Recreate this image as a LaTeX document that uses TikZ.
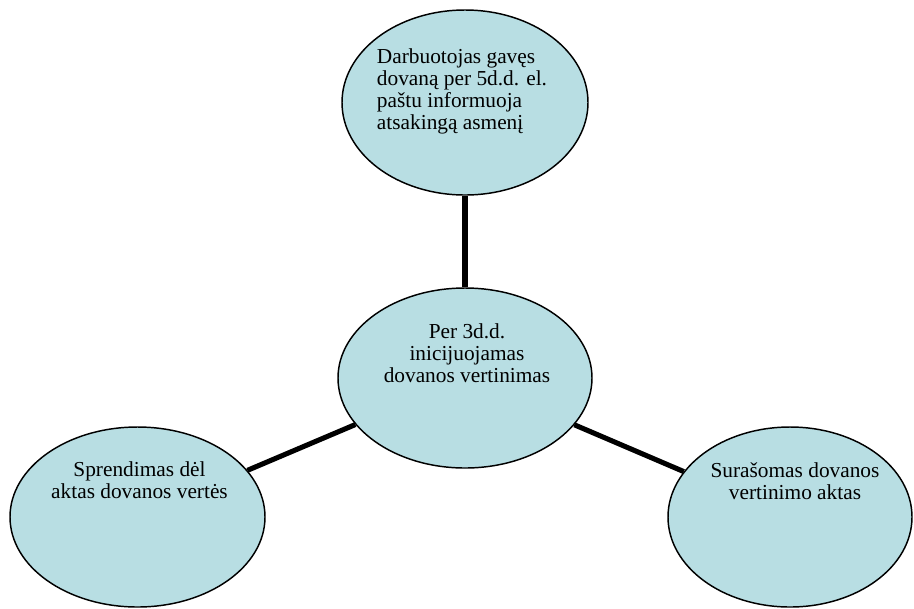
\documentclass[tikz,border=0pt]{standalone}
\usepackage{fontspec}
\setmainfont{Liberation Serif}
\usetikzlibrary{shapes.geometric,positioning}
\definecolor{stagefill}{RGB}{184,222,227}

\begin{document}
\begin{tikzpicture}[
    x=0.75pt, y=-0.75pt,
    stage/.style={ellipse, draw, line width=1.1pt, fill=stagefill, inner sep=0pt},
    caption/.style={inner sep=0pt, font=\fontsize{16pt}{16.5pt}\selectfont, align=center},
    link/.style={line width=3.8pt}
]
\useasboundingbox (0,0) rectangle (914,608);

% Ellipses
\node[stage, minimum width=184.5pt, minimum height=138.75pt] (gift) at (465,102.5) {};
\node[stage, minimum width=190.5pt, minimum height=135pt] (evaluation) at (465,378) {};
\node[stage, minimum width=191.25pt, minimum height=135pt] (decision) at (137.5,517) {};
\node[stage, minimum width=183pt, minimum height=135pt] (record) at (790,517) {};

% Texts
\node[caption, align=left, below=29.5pt of gift.north, xshift=-2.25pt] (gift_text) {Darbuotojas gavęs\\dovaną per 5d.d. el.\\paštu informuoja\\atsakingą asmenį};
\node[caption, below=27pt of evaluation.north, xshift=1.5pt] (evaluation_text) {Per 3d.d.\\inicijuojamas\\dovanos vertinimas};
\node[caption, below=26pt of decision.north, xshift=1.5pt] (decision_text) {Sprendimas dėl\\aktas dovanos vertės};
\node[caption, below=27pt of record.north, xshift=3.75pt] (record_text) {Surašomas dovanos\\vertinimo aktas};

% Connectors
\draw[link] (gift) -- (evaluation);
\draw[link] (evaluation) -- (decision);
\draw[link] (evaluation) -- (record);

\end{tikzpicture}
\end{document}
